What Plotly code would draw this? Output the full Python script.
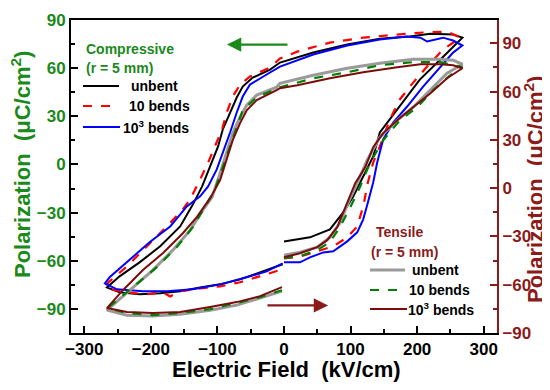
import plotly.graph_objects as go

# ---------------- data ----------------
# Compressive (left axis)
comp_unbent_E = [0, 39, 69, 89, 104, 119, 134, 144, 174, 204, 235, 260, 268, 254, 220, 189, 144, 95, 44, -6, -21, -47, -62, -71, -81, -92, -99, -111, -123, -137, -156, -186, -217, -247, -266, -247, -217, -186, -156, -126, -96, -66, -36, -17, -2]
comp_unbent_P = [-48, -45.4, -40.5, -29.9, -19.9, -7.5, 5.0, 19.9, 36.1, 52.9, 65.4, 75.9, 79.0, 80.9, 81.5, 79.7, 78.4, 74.7, 69.7, 63.5, 59.1, 54.1, 48.5, 41.7, 32.4, 21.8, 11.2, -1.2, -13.7, -25, -38.6, -51.0, -61.0, -69.7, -76.6, -79.7, -80.9, -80.3, -79.0, -76.6, -74.7, -71.6, -67.2, -64.7, -62.2]

comp_10_E = [0, 24, 50, 74, 95, 110, 119, 126, 134, 144, 159, 174, 194, 215, 239, 260, 265, 245, 209, 170, 119, 69, 20, -6, -21, -51, -66, -77, -86, -93, -101, -114, -126, -141, -152, -176, -206, -236, -262, -269, -262, -236, -206, -182, -171, -156, -126, -96, -66, -36, -3]
comp_10_P = [-58.5, -57.3, -54.1, -51.0, -45.4, -38.6, -26.1, -11.2, 1.2, 11.2, 28.0, 40.5, 51.0, 61.0, 71.6, 77.8, 79.0, 82.8, 82.2, 80.9, 79.0, 75.9, 70.3, 66.0, 60.4, 54.8, 49.8, 42.3, 32.4, 21.8, 13.7, 1.2, -9.3, -21.8, -28.0, -38.6, -51.0, -63.5, -72.8, -75.9, -77.8, -79.7, -80.9, -79.7, -82.2, -79.0, -77.2, -75.9, -73.4, -69.7, -65.4]

comp_1000_E = [0, 24, 39, 59, 74, 95, 110, 119, 126, 134, 140, 149, 164, 185, 209, 235, 254, 268, 254, 239, 224, 215, 205, 185, 144, 95, 44, -6, -21, -51, -62, -71, -81, -92, -101, -114, -126, -146, -171, -202, -236, -262, -269, -251, -212, -176, -137, -96, -56, -26, -2]
comp_1000_P = [-61.0, -61.0, -57.9, -54.8, -54.1, -47.9, -42.3, -34.2, -23.7, -11.2, 1.2, 15.6, 26.1, 36.1, 48.5, 61.0, 69.7, 74.1, 77.2, 79.0, 77.2, 76.6, 79.0, 79.7, 77.8, 74.1, 68.5, 61.0, 57.3, 49.8, 42.3, 32.4, 19.9, 7.5, -3.1, -13.7, -19.9, -26.1, -38.6, -48.5, -61.0, -70.3, -74.1, -77.8, -79.0, -79.0, -77.8, -74.7, -70.3, -66.6, -61.6]

# Tensile (right axis)
tens_unbent_E = [0, 24, 50, 69, 84, 96, 110, 125, 144, 170, 194, 220, 245, 268, 254, 235, 194, 144, 95, 44, -6, -11, -41, -56, -66, -77, -86, -96, -108, -122, -141, -167, -197, -232, -262, -266, -236, -197, -156, -111, -71, -36, -3]
tens_unbent_P = [-41.6, -39.8, -36.6, -30.4, -21.7, -9.3, 3.1, 17.4, 31.7, 42.2, 50.3, 60.9, 71.4, 77.0, 79.5, 80.1, 80.1, 77.6, 74.5, 70.2, 65.2, 62.7, 57.8, 51.6, 44.1, 34.2, 21.7, 9.3, -5.6, -13.7, -26.1, -38.5, -50.9, -63.4, -73.9, -75.8, -78.9, -79.5, -78.3, -75.8, -72.7, -68.3, -64.0]

tens_10_E = [0, 24, 50, 69, 84, 99, 114, 129, 149, 174, 200, 224, 250, 268, 235, 194, 144, 95, 44, -6, -41, -62, -71, -81, -92, -104, -116, -137, -161, -191, -227, -257, -265, -236, -197, -156, -111, -71, -36, -3]
tens_10_P = [-43.5, -42.2, -38.5, -33.5, -24.2, -12.4, 0.6, 15.5, 29.8, 42.2, 50.3, 60.9, 70.2, 75.2, 78.3, 78.3, 76.4, 72.0, 68.3, 62.7, 56.5, 48.4, 37.9, 25.5, 13.0, -1.2, -9.3, -24.2, -36.6, -49.1, -61.5, -71.4, -74.5, -77.6, -78.9, -77.6, -75.2, -71.4, -67.7, -63.4]

tens_1000_E = [0, 24, 50, 65, 80, 95, 107, 122, 134, 149, 170, 194, 220, 245, 268, 254, 235, 205, 170, 119, 69, 20, -6, -11, -41, -56, -66, -77, -86, -96, -111, -131, -152, -182, -212, -242, -266, -236, -197, -156, -111, -71, -36, -3]
tens_1000_P = [-42.9, -40.4, -36.6, -32.3, -24.2, -9.3, 3.1, 13.0, 25.5, 34.2, 42.2, 50.3, 59.0, 68.3, 74.5, 76.4, 77.0, 77.0, 75.2, 72.0, 68.3, 64.0, 62.1, 60.9, 54.7, 48.4, 40.4, 29.8, 17.4, 5.0, -6.2, -18.0, -28.0, -40.4, -50.9, -63.4, -74.5, -77.0, -77.6, -77.0, -73.9, -70.8, -67.1, -61.5]

x_ticks = [-300, -200, -100, 0, 100, 200, 300]
y_ticks = [-90, -60, -30, 0, 30, 60, 90]

# ---------------- styles ----------------
FONT = "Arial, Liberation Sans, sans-serif"
GREEN = "#1a8a1a"
DRED = "#8b1a1a"
LGREEN = "#008000"
GREY = "#9a9a9a"
BROWN = "#7a0c0c"

# page body has an 8px default margin; the plot area is placed so that it lands
# at x 71..497, y 20..333 in the browser window
OFF = 8
fig = go.Figure()

def add(E, P, color, dash, width, yaxis):
    fig.add_trace(go.Scatter(x=E, y=P, mode="lines", yaxis=yaxis,
                             line=dict(color=color, dash=dash, width=width),
                             showlegend=False, hoverinfo="skip"))

add(tens_unbent_E, tens_unbent_P, GREY, "solid", 3, "y2")
add(tens_10_E, tens_10_P, LGREEN, "dash", 2.2, "y2")
add(tens_1000_E, tens_1000_P, BROWN, "solid", 2, "y2")
add(comp_unbent_E, comp_unbent_P, "black", "solid", 2, "y")
add(comp_10_E, comp_10_P, "red", "dash", 2.2, "y")
add(comp_1000_E, comp_1000_P, "blue", "solid", 2, "y")

fig.update_layout(
    width=550 - OFF, height=390 - OFF,
    margin=dict(l=71 - OFF, r=53, t=20 - OFF, b=57, autoexpand=False),
    paper_bgcolor="white", plot_bgcolor="white",
    font=dict(family=FONT),
    xaxis=dict(range=[-320, 320], tickvals=x_ticks, ticks="inside", ticklen=7, tickwidth=2,
               tickcolor="black", showline=True, linecolor="black", linewidth=2, mirror=True,
               showgrid=False, zeroline=False, automargin=False,
               tickfont=dict(family=FONT, size=17, weight="bold", color="black"),
               minor=dict(dtick=50, ticks="inside", ticklen=4, tickwidth=2, tickcolor="black")),
    yaxis=dict(range=[-105, 90], tickvals=y_ticks, ticks="inside", ticklen=7, tickwidth=2,
               tickcolor="black", showline=True, linecolor="black", linewidth=2,
               showgrid=False, zeroline=False, automargin=False,
               tickfont=dict(family=FONT, size=17, weight="bold", color=GREEN),
               minor=dict(dtick=15, tick0=0, ticks="inside", ticklen=4, tickwidth=2, tickcolor="black")),
    yaxis2=dict(range=[-90, 104.5], tickvals=y_ticks, overlaying="y", side="right",
                ticks="inside", ticklen=7, tickwidth=2, tickcolor=DRED, automargin=False,
                showline=True, linecolor=DRED, linewidth=2, showgrid=False, zeroline=False,
                tickfont=dict(family=FONT, size=17, weight="bold", color=DRED),
                minor=dict(dtick=15, tick0=0, ticks="inside", ticklen=4, tickwidth=2, tickcolor=DRED)),
)

def px2paper(px, py):
    return (px - 71) / 426.0, (333 - py) / 313.0

annots = []
def text(px, py, s, color, size=14, anchor="left"):
    x, y = px2paper(px, py)
    annots.append(dict(x=x, y=y, xref="paper", yref="paper", text=s, showarrow=False,
                       xanchor=anchor, yanchor="middle",
                       font=dict(family=FONT, size=size, color=color, weight="bold")))

# axis titles
x, y = px2paper(286, 369)
annots.append(dict(x=x, y=y, xref="paper", yref="paper", showarrow=False,
                   text="Electric Field\u00a0\u00a0(kV/cm)", xanchor="center", yanchor="middle",
                   font=dict(family=FONT, size=22, color="black", weight="bold")))
x, y = px2paper(21, 165)
annots.append(dict(x=x, y=y, xref="paper", yref="paper", showarrow=False, textangle=-90,
                   text="Polarization\u00a0\u00a0(\u03bcC/cm<sup>2</sup>)", xanchor="center", yanchor="middle",
                   font=dict(family=FONT, size=22, color=GREEN, weight="bold")))
x, y = px2paper(534, 190)
annots.append(dict(x=x, y=y, xref="paper", yref="paper", showarrow=False, textangle=-90,
                   text="Polarization\u00a0\u00a0(\u03bcC/cm<sup>2</sup>)", xanchor="center", yanchor="middle",
                   font=dict(family=FONT, size=22, color=DRED, weight="bold")))

# compressive legend
text(84, 49, "Compressive", GREEN)
text(84, 68, "(r = 5 mm)", GREEN)
text(129, 86, "unbent", "black")
text(127, 106, "10 bends", "black")
text(121, 127, "10<sup>3</sup> bends", "black")
# tensile legend
text(374, 232, "Tensile", DRED)
text(369, 252, "(r = 5 mm)", DRED)
text(410, 270, "unbent", "black")
text(407, 290, "10 bends", "black")
text(406, 309, "10<sup>3</sup> bends", "black")

# arrows (data coords on left axis)
annots.append(dict(x=-85.7, y=74.7, ax=7.5, ay=74.7, xref="x", yref="y", axref="x", ayref="y",
                   text="", showarrow=True, arrowhead=2, arrowsize=1.3, arrowwidth=2.2, arrowcolor=GREEN))
annots.append(dict(x=66.2, y=-87.8, ax=-27.1, ay=-87.8, xref="x", yref="y", axref="x", ayref="y",
                   text="", showarrow=True, arrowhead=2, arrowsize=1.3, arrowwidth=2.2, arrowcolor=DRED))
fig.update_layout(annotations=annots)

# legend sample lines
shapes = []
def legline(px0, px1, py, color, dash, width):
    x0, y0 = px2paper(px0, py)
    x1, _ = px2paper(px1, py)
    shapes.append(dict(type="line", xref="paper", yref="paper", x0=x0, x1=x1, y0=y0, y1=y0,
                       line=dict(color=color, dash=dash, width=width)))
legline(83, 119, 86, "black", "solid", 2)
legline(83, 116, 106, "red", "dash", 2.2)
legline(83, 120, 127, "blue", "solid", 2)
legline(370, 405, 270, GREY, "solid", 3)
legline(370, 403, 290, LGREEN, "dash", 2.2)
legline(370, 407, 309, BROWN, "solid", 2)
fig.update_layout(shapes=shapes)

fig.write_html("out.html")
